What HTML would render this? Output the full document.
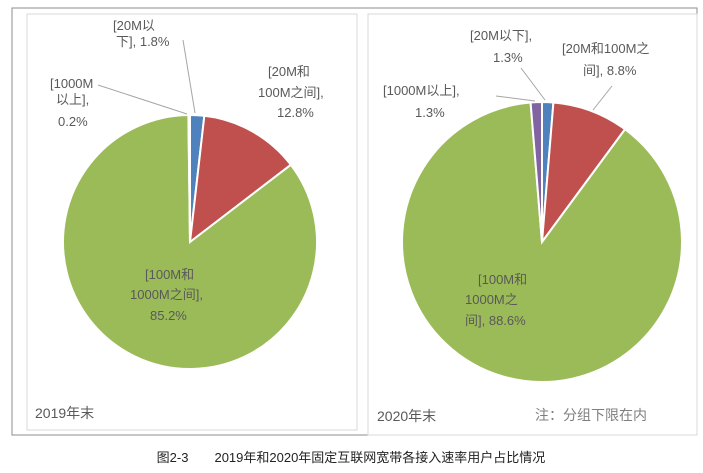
<!DOCTYPE html>
<html><head><meta charset="utf-8"><style>
body{margin:0;background:#fff;width:703px;height:473px;overflow:hidden}
svg{display:block}
text{font-family:"Liberation Sans","Noto Sans CJK SC",sans-serif;fill:#595959;font-size:13px}
</style></head><body>
<svg width="703" height="473">
<rect x="12" y="8" width="685" height="427" fill="#fff" stroke="#8c8c8c"/>
<rect x="27" y="14" width="330" height="416" fill="#fff" stroke="#d9d9d9"/>
<rect x="368" y="14" width="329" height="421" fill="#fff" stroke="#d9d9d9"/>
<g id="pies"></g>
<g>
<text x="113" y="30">[20M以</text><text x="116" y="46">下], 1.8%</text>
<text x="50" y="88">[1000M</text><text x="56" y="104">以上],</text><text x="58" y="126">0.2%</text>
<text x="268" y="76">[20M和</text><text x="258" y="97">100M之间],</text><text x="277" y="117">12.8%</text>
<text x="145" y="279">[100M和</text><text x="130" y="299">1000M之间],</text><text x="150" y="320">85.2%</text>
<line x1="98" y1="85" x2="187" y2="114" stroke="#a6a6a6"/>
<line x1="183" y1="40" x2="195" y2="113" stroke="#a6a6a6"/>
</g>
<g>
<text x="470" y="40">[20M以下],</text><text x="493" y="62">1.3%</text>
<text x="562" y="53">[20M和100M之</text><text x="583" y="75">间], 8.8%</text>
<text x="383" y="95">[1000M以上],</text><text x="415" y="117">1.3%</text>
<text x="478" y="284">[100M和</text><text x="465" y="304">1000M之</text><text x="465" y="325">间], 88.6%</text>
<line x1="496" y1="96" x2="535" y2="101" stroke="#a6a6a6"/>
<line x1="521" y1="68" x2="545" y2="100" stroke="#a6a6a6"/>
<line x1="612" y1="86" x2="593" y2="110" stroke="#a6a6a6"/>
</g>
<text x="35" y="418" style="font-size:14px">2019年末</text>
<text x="377" y="421" style="font-size:14px">2020年末</text>
<text x="535" y="420" style="font-size:14px;fill:#7f7f7f">注：分组下限在内</text>
<text x="351" y="462" text-anchor="middle" style="font-size:13px;fill:#222">图2-3　　2019年和2020年固定互联网宽带各接入速率用户占比情况</text>
</svg>
<script>
const categories=["20M以下","20M和100M之间","100M和1000M之间","1000M以上"];
const colors=["#4f81bd","#c0504d","#9bbb59","#8064a2"];
const values2019=[1.8,12.8,85.2,0.2];
const values2020=[1.3,8.8,88.6,1.3];
const NS="http://www.w3.org/2000/svg";
function drawPie(vals,cx,cy,r,name){
  const g=document.getElementById('pies');
  const total=vals.reduce((a,b)=>a+b,0);
  let a=0;
  vals.forEach((v,i)=>{
    const a0=a/total*2*Math.PI,a1=(a+v)/total*2*Math.PI;a+=v;
    const x0=cx+r*Math.sin(a0),y0=cy-r*Math.cos(a0),x1=cx+r*Math.sin(a1),y1=cy-r*Math.cos(a1);
    const p=document.createElementNS(NS,'path');
    p.setAttribute('d',`M${cx},${cy}L${x0},${y0}A${r},${r} 0 ${a1-a0>Math.PI?1:0} 1 ${x1},${y1}Z`);
    p.setAttribute('fill',colors[i]);p.setAttribute('stroke','#fff');p.setAttribute('stroke-width','2');
    
    
    g.appendChild(p);
  });
}
drawPie(values2019,190,242,127,'pie-2019');
drawPie(values2020,542,242,140,'pie-2020');
</script>
</body></html>
